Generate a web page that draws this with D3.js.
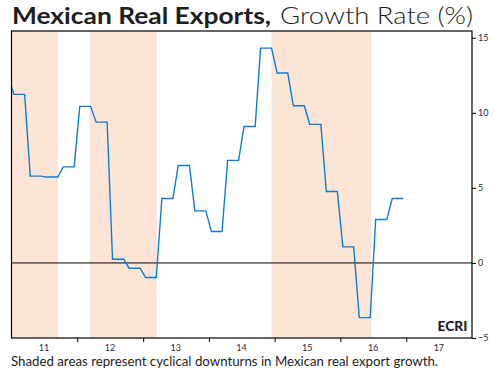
<!DOCTYPE html>
<html>
<head>
<meta charset="utf-8">
<script src="https://cdn.jsdelivr.net/npm/d3@7"></script>
<style>
  body { margin: 0; background: #fff; }
  svg { display: block; font-family: Lato, "Open Sans", sans-serif; }
</style>
</head>
<body>
<div id="chart"></div>
<script>
// quarterly growth rate (%), each held for the 3 months of its quarter
const quarters = ["2010Q4",
  "2011Q1","2011Q2","2011Q3","2011Q4",
  "2012Q1","2012Q2","2012Q3","2012Q4",
  "2013Q1","2013Q2","2013Q3","2013Q4",
  "2014Q1","2014Q2","2014Q3","2014Q4",
  "2015Q1","2015Q2","2015Q3","2015Q4",
  "2016Q1","2016Q2","2016Q3","2016Q4"]
const growth = [12.3,
  11.23, 5.78, 5.72, 6.4,
  10.43, 9.38, 0.25, -0.35,
  -0.97, 4.29, 6.49, 3.47,
  2.09, 6.83, 9.09, 14.31,
  12.65, 10.47, 9.23, 4.76,
  1.07, -3.64, 2.89, 4.29]

// cyclical downturns (start, end)
const downturns = [
  ["2010-10-01", "2011-09-15"],
  ["2012-03-10", "2013-03-18"],
  ["2014-12-15", "2016-06-20"]
]

const yTicks = [-5, 0, 5, 10, 15]
const xYears = [2011, 2012, 2013, 2014, 2015, 2016, 2017]

const margin = {top: 31, right: 23, bottom: 37, left: 11.5},
  width = 495 - margin.left - margin.right,
  height = 375 - margin.top - margin.bottom

const svg = d3.select("#chart").append("svg")
  .attr("width", 495).attr("height", 375)

// build monthly points (mid-month) from the quarterly values
const monthly = []
quarters.forEach((q, i) => {
  const yr = +q.slice(0, 4), qn = +q.slice(5)
  const first = (qn - 1) * 3
  // Q4 2010 only needs its last month (it is clipped anyway)
  const months = i === 0 ? [first + 2] : [first, first + 1, first + 2]
  months.forEach(m => monthly.push({date: new Date(yr, m, 15), value: growth[i]}))
})

const x = d3.scaleTime()
  .domain([new Date(2011, 0, 1), new Date(2018, 0, 1)])
  .range([0, width])
const y = d3.scaleLinear()
  .domain([-5, 15.45])
  .range([height, 0])

const g = svg.append("g")
  .attr("transform", `translate(${margin.left},${margin.top})`)

g.append("clipPath").attr("id", "clip")
  .append("rect").attr("width", width).attr("height", height)

// shaded downturns
g.selectAll("rect.shade")
  .data(downturns)
  .join("rect")
  .attr("class", "shade")
  .attr("clip-path", "url(#clip)")
  .attr("x", d => x(new Date(d[0])))
  .attr("width", d => x(new Date(d[1])) - x(new Date(d[0])))
  .attr("y", 0)
  .attr("height", height)
  .attr("fill", "#fce5d7")

// zero line
g.append("line")
  .attr("x1", 0).attr("x2", width)
  .attr("y1", y(0)).attr("y2", y(0))
  .attr("stroke", "#000").attr("stroke-width", 1)

// data line
const line = d3.line()
  .x(d => x(d.date))
  .y(d => y(d.value))

g.append("path")
  .datum(monthly)
  .attr("clip-path", "url(#clip)")
  .attr("d", line)
  .attr("fill", "none")
  .attr("stroke", "#0b7dcf")
  .attr("stroke-width", 1.4)

// frame
g.append("rect")
  .attr("width", width).attr("height", height)
  .attr("fill", "none").attr("stroke", "#000").attr("stroke-width", 1.2)

// right y axis
const yAxis = g.append("g")
  .attr("transform", `translate(${width},0)`)
  .call(d3.axisRight(y).tickValues(yTicks).tickSize(4).tickPadding(2))
yAxis.select(".domain").remove()
yAxis.selectAll("text").attr("font-size", 9).attr("fill", "#2a2a40")
  .attr("font-family", "Lato, sans-serif")

// bottom x axis: ticks at year starts, labels mid-year
const xAxis = g.append("g")
  .attr("transform", `translate(0,${height})`)
  .call(d3.axisBottom(x)
    .tickValues(xYears.slice(1).map(yr => new Date(yr, 0, 1)))
    .tickSize(4).tickFormat(""))
xAxis.select(".domain").remove()

g.selectAll("text.xlab")
  .data(xYears)
  .join("text")
  .attr("class", "xlab")
  .attr("x", d => x(new Date(d, 6, 1)))
  .attr("y", height + 13)
  .attr("text-anchor", "middle")
  .attr("font-size", 9)
  .attr("fill", "#2a2a40")
  .text(d => String(d).slice(2))

// ECRI mark
g.append("text")
  .attr("x", width - 34.5)
  .attr("y", height - 7)
  .attr("font-size", 12.5)
  .attr("font-weight", "900")
  .attr("fill", "#1c1c2c")
  .attr("textLength", 30)
  .attr("lengthAdjust", "spacingAndGlyphs")
  .text("ECRI")

// title
svg.append("text")
  .attr("x", 12)
  .attr("y", 23.5)
  .attr("font-size", 22.5)
  .attr("font-weight", "bold")
  .attr("fill", "#1d1d1d")
  .attr("textLength", 259)
  .attr("lengthAdjust", "spacingAndGlyphs")
  .text("Mexican Real Exports,")
svg.append("text")
  .attr("x", 280)
  .attr("y", 23.5)
  .attr("font-size", 22.5)
  .attr("font-weight", "300")
  .attr("fill", "#1d1d1d")
  .attr("textLength", 193)
  .attr("lengthAdjust", "spacingAndGlyphs")
  .text("Growth Rate (%)")

// footnote
svg.append("text")
  .attr("x", 11)
  .attr("y", 366)
  .attr("font-size", 13)
  .attr("fill", "#1d1d1d")
  .attr("textLength", 427)
  .attr("lengthAdjust", "spacingAndGlyphs")
  .text("Shaded areas represent cyclical downturns in Mexican real export growth.")
</script>
</body>
</html>
